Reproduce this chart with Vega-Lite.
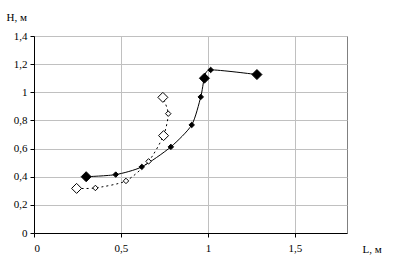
{
  "$schema": "https://vega.github.io/schema/vega-lite/v6.json",
  "autosize": "none",
  "width": 313,
  "height": 197,
  "padding": {"left": 34, "top": 36, "right": 46, "bottom": 32},
  "background": "white",
  "config": {
    "view": {"stroke": "#808080", "strokeWidth": 1},
    "font": "Liberation Serif",
    "axis": {
      "labelFont": "Liberation Serif",
      "labelFontSize": 11,
      "labelColor": "black",
      "titleFont": "Liberation Serif",
      "titleFontSize": 11,
      "titleFontWeight": "normal",
      "titleColor": "black",
      "domainColor": "black",
      "domainWidth": 1,
      "tickColor": "black",
      "tickSize": 4,
      "gridColor": "#c0c0c0",
      "gridWidth": 1
    }
  },
  "data": {
    "values": [
      {"s": "A", "i": 1, "L": 0.30, "H": 0.40, "m": "big"},
      {"s": "A", "i": 2, "L": 0.47, "H": 0.415, "m": "small"},
      {"s": "A", "i": 3, "L": 0.62, "H": 0.47, "m": "small"},
      {"s": "A", "i": 4, "L": 0.787, "H": 0.612, "m": "small"},
      {"s": "A", "i": 5, "L": 0.907, "H": 0.768, "m": "small"},
      {"s": "A", "i": 6, "L": 0.959, "H": 0.967, "m": "small"},
      {"s": "A", "i": 7, "L": 0.98, "H": 1.10, "m": "big"},
      {"s": "A", "i": 8, "L": 1.016, "H": 1.159, "m": "small"},
      {"s": "A", "i": 9, "L": 1.282, "H": 1.126, "m": "big"},
      {"s": "B", "i": 1, "L": 0.245, "H": 0.317, "m": "big"},
      {"s": "B", "i": 2, "L": 0.353, "H": 0.32, "m": "small"},
      {"s": "B", "i": 3, "L": 0.529, "H": 0.37, "m": "small"},
      {"s": "B", "i": 4, "L": 0.659, "H": 0.509, "m": "small"},
      {"s": "B", "i": 5, "L": 0.745, "H": 0.692, "m": "big"},
      {"s": "B", "i": 6, "L": 0.772, "H": 0.848, "m": "small"},
      {"s": "B", "i": 7, "L": 0.741, "H": 0.964, "m": "big"}
    ]
  },
  "encoding": {
    "x": {
      "field": "L", "type": "quantitative",
      "scale": {"domain": [0, 1.8], "nice": false, "zero": false},
      "axis": {
        "values": [0, 0.5, 1, 1.5],
        "labelExpr": "replace(format(datum.value, '~g'), '.', ',')",
        "labelPadding": 5,
        "title": "L, м",
        "titleAngle": 0,
        "titleX": 328,
        "titleY": 16,
        "titleAlign": "left",
        "titleBaseline": "middle"
      }
    },
    "y": {
      "field": "H", "type": "quantitative",
      "scale": {"domain": [0, 1.4], "nice": false, "zero": false},
      "axis": {
        "values": [0, 0.2, 0.4, 0.6, 0.8, 1, 1.2, 1.4],
        "labelExpr": "replace(format(datum.value, '~g'), '.', ',')",
        "labelPadding": 3,
        "title": "H, м",
        "titleAngle": 0,
        "titleX": -28,
        "titleY": -19,
        "titleAlign": "left",
        "titleBaseline": "middle"
      }
    }
  },
  "layer": [
    {
      "transform": [{"filter": "datum.s === 'A'"}],
      "mark": {"type": "line", "interpolate": "cardinal", "tension": 0.3, "color": "black", "strokeWidth": 1},
      "encoding": {"order": {"field": "i", "type": "quantitative"}}
    },
    {
      "transform": [{"filter": "datum.s === 'B'"}],
      "mark": {"type": "line", "interpolate": "cardinal", "tension": 0.3, "color": "black", "strokeWidth": 1, "strokeDash": [2, 3]},
      "encoding": {"order": {"field": "i", "type": "quantitative"}}
    },
    {
      "mark": {"type": "point", "shape": "diamond", "filled": true, "stroke": "black", "strokeWidth": 1, "opacity": 1},
      "encoding": {
        "fill": {"field": "s", "type": "nominal", "scale": {"domain": ["A", "B"], "range": ["black", "white"]}, "legend": null},
        "size": {"field": "m", "type": "nominal", "scale": {"domain": ["big", "small"], "range": [100, 30]}, "legend": null}
      }
    }
  ]
}
